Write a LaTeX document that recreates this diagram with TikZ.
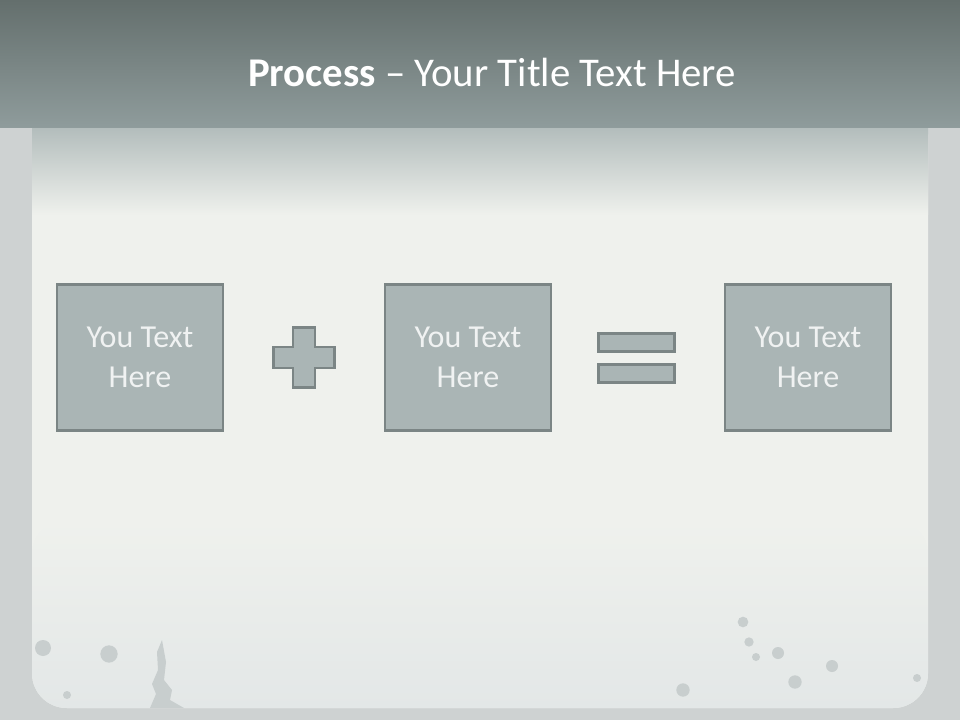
\documentclass[tikz,border=0pt]{standalone}
\usepackage{fontspec}
\setmainfont{Carlito}
\usepackage{tikz}
\usetikzlibrary{positioning, calc}
\definecolor{bandtop}{HTML}{646F6D}
\definecolor{bandbottom}{HTML}{8F9C9C}
\definecolor{framegray}{HTML}{CED2D2}
\definecolor{paneltop}{HTML}{B3BDBC}
\definecolor{panelwhite}{HTML}{EFF1ED}
\definecolor{panelbottom}{HTML}{E3E7E7}
\definecolor{boxfill}{HTML}{AAB5B5}
\definecolor{boxline}{HTML}{7B8585}
\definecolor{boxtext}{HTML}{F0F2F2}
\definecolor{spotgray}{HTML}{C8CECE}

\begin{document}
\begin{tikzpicture}[x=0.75pt, y=-0.75pt,
    textbox/.style={fill=boxfill, draw=boxline, line width=2.2pt,
      minimum width=124.5pt, minimum height=109.5pt, inner sep=0pt,
      align=center, text=boxtext, font=\fontsize{24}{30}\selectfont},
    barpart/.style={fill=boxfill, draw=boxline, line width=2.2pt,
      minimum width=57pt, minimum height=14pt, inner sep=0pt},
    spot/.style={fill=spotgray, draw=none}]
  \useasboundingbox (0,0) rectangle (960,720);

  % background: frame, panel, title band
  \fill[framegray] (0,0) rectangle (960,720);
  \fill[panelwhite, rounded corners=26pt] (32,100) rectangle (928,708);
  \shade[top color=paneltop, bottom color=panelwhite] (32,128) rectangle (928,215);
  \shade[top color=panelwhite, bottom color=panelbottom, rounded corners=26pt]
    (32,520) rectangle (928,708);
  \shade[top color=bandtop, bottom color=bandbottom] (0,0) rectangle (960,128);

  % grunge spots
  \fill[spot] (43,648) circle[radius=6pt];
  \fill[spot] (109,654) circle[radius=6.5pt];
  \fill[spot] (67,695) circle[radius=3pt];
  \fill[spot] (743,622) circle[radius=4pt];
  \fill[spot] (749,642) circle[radius=3.5pt];
  \fill[spot] (756,657) circle[radius=3pt];
  \fill[spot] (778,653) circle[radius=4.5pt];
  \fill[spot] (832,666) circle[radius=4.5pt];
  \fill[spot] (795,682) circle[radius=5pt];
  \fill[spot] (683,690) circle[radius=5pt];
  \fill[spot] (917,678) circle[radius=3pt];
  \fill[spot] (162,640) -- (166,662) -- (164,680) -- (172,690) -- (170,700)
    -- (184,708) -- (150,708) -- (156,694) -- (152,684) -- (158,670)
    -- (157,652) -- cycle;

  % title
  \node[anchor=base, text=white, font=\fontsize{30.6}{36}\selectfont] (title)
    at (492,87) {\textbf{Process} -- Your Title Text Here};

  % process boxes
  \node[textbox] (first) at (140,357.5) {You Text\\Here};
  \node[textbox, right=119.3pt of first] (second) {You Text\\Here};
  \node[textbox, right=128.3pt of second] (result) {You Text\\Here};

  % plus sign
  \coordinate (plus) at (304,357.5);
  \filldraw[fill=boxfill, draw=boxline, line width=2.2pt]
    ($(plus)+(-11,-30)$) -- ++(22,0) -- ++(0,19.5) -- ++(19.5,0) -- ++(0,21)
    -- ++(-19.5,0) -- ++(0,19.5) -- ++(-22,0) -- ++(0,-19.5) -- ++(-19.5,0)
    -- ++(0,-21) -- ++(19.5,0) -- cycle;

  % equals sign
  \node[barpart] (eqtop) at (636.5,342.5) {};
  \node[barpart, below=7pt of eqtop] (eqbottom) {};
\end{tikzpicture}
\end{document}
